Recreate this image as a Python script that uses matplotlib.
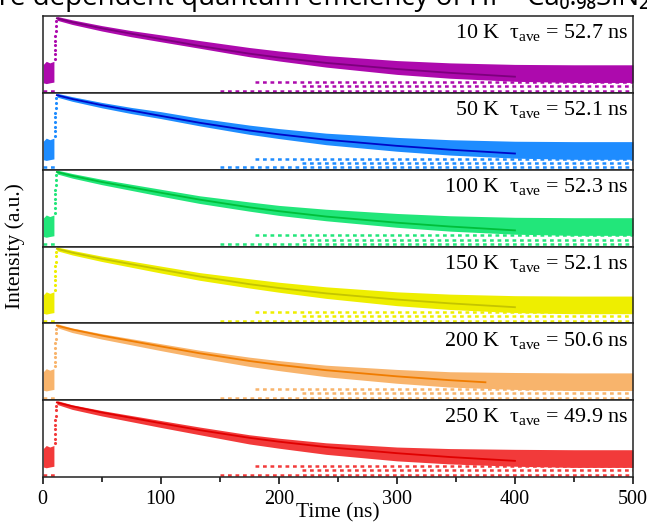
import matplotlib
matplotlib.use("Agg")
import matplotlib.pyplot as plt
import numpy as np

plt.rcParams['mathtext.fontset'] = 'custom'
plt.rcParams['mathtext.rm'] = 'Liberation Serif'
plt.rcParams['mathtext.it'] = 'Liberation Serif:italic'

# ---- data (normalised intensity = fraction of panel height) ----
temps = ["10 K", "50 K", "100 K", "150 K", "200 K", "250 K"]
tau_ave = ["52.7", "52.1", "52.3", "52.1", "50.6", "49.9"]
point_colors = ["#ad0aad", "#1e8cff", "#22e67a", "#eeee00", "#f8b46c", "#f23a3a"]
fit_colors = ["#7d007d", "#0008c8", "#00bf3a", "#c4c400", "#f07c00", "#e00000"]

# decay envelope (time in ns)
t_env = [12, 25, 50, 75, 100, 133, 175, 200, 240, 300, 345, 400, 450, 500]
center = {
    "10 K":  [0.97, 0.92, 0.84, 0.77, 0.71, 0.63, 0.53, 0.48, 0.41, 0.33, 0.29, 0.26, 0.25, 0.25],
    "50 K":  [0.97, 0.92, 0.84, 0.77, 0.71, 0.62, 0.52, 0.47, 0.40, 0.33, 0.29, 0.26, 0.25, 0.25],
    "100 K": [0.97, 0.92, 0.84, 0.77, 0.70, 0.61, 0.52, 0.47, 0.41, 0.34, 0.30, 0.27, 0.26, 0.26],
    "150 K": [0.97, 0.92, 0.84, 0.77, 0.70, 0.61, 0.52, 0.47, 0.40, 0.32, 0.28, 0.25, 0.24, 0.24],
    "200 K": [0.97, 0.91, 0.83, 0.76, 0.69, 0.60, 0.50, 0.45, 0.38, 0.31, 0.27, 0.25, 0.24, 0.24],
    "250 K": [0.97, 0.91, 0.83, 0.76, 0.69, 0.60, 0.49, 0.44, 0.37, 0.30, 0.27, 0.25, 0.24, 0.24],
}
half_width = [0.025, 0.03, 0.035, 0.04, 0.045, 0.05, 0.06, 0.065, 0.075, 0.09, 0.10, 0.11, 0.115, 0.115]

# fitted curve
t_fit = [12, 25, 50, 75, 100, 133, 175, 200, 240, 300, 345, 400]
fit_vals = [0.97, 0.92, 0.84, 0.77, 0.70, 0.61, 0.51, 0.46, 0.39, 0.31, 0.26, 0.21]
fit_end = {"10 K": 400, "50 K": 400, "100 K": 400, "150 K": 400, "200 K": 375, "250 K": 400}

# background before excitation
t_pre = [0.5, 3, 6, 9.5]
pre_lo = [0.13, 0.12, 0.13, 0.14]
pre_hi = [0.37, 0.41, 0.39, 0.41]

# rising edge points
t_rise = [10.5, 10.5, 10.5, 10.5, 10.5, 10.5, 11, 11, 11.5]
rise_vals = [0.44, 0.50, 0.56, 0.62, 0.68, 0.74, 0.80, 0.87, 0.93]

# quantised count levels in the tail
count_levels = [0.145, 0.09, 0.03]
count_start = [180, 220, 150]

xticks = [0, 100, 200, 300, 400, 500]

W, H = 647, 525
fig = plt.figure(figsize=(W / 100, H / 100), dpi=100)
fig.subplots_adjust(left=42.7 / W, right=633 / W, top=1 - 16 / H, bottom=1 - 477 / H, hspace=0)
axes = fig.subplots(len(temps), 1, sharex=True)

for ax, temp, tau, pc, fc in zip(axes, temps, tau_ave, point_colors, fit_colors):
    c = np.array(center[temp])
    hw = np.array(half_width)
    ax.fill_between(t_env, c - hw, c + hw, color=pc, lw=0, zorder=2)
    ax.fill_between(t_pre, pre_lo, pre_hi, color=pc, lw=0, zorder=2)
    ax.scatter(t_rise, rise_vals, s=5, color=pc, lw=0, zorder=2)
    for lvl, st in zip(count_levels, count_start):
        ax.hlines(lvl, st, 500, colors=pc, linestyles=(0, (1.5, 1.5)), lw=1.8, zorder=2)
    ax.hlines(0.03, 0, 10, colors=pc, linestyles=(0, (1.5, 1.5)), lw=1.8, zorder=2)
    tf = [t for t in t_fit if t <= fit_end[temp]]
    if fit_end[temp] not in tf:
        tf.append(fit_end[temp])
    fv = np.interp(tf, t_fit, fit_vals)
    ax.plot(tf, fv, color=fc, lw=1.3, zorder=3)
    ax.set_xlim(0, 500)
    ax.set_ylim(0, 1)
    ax.set_yticks([])
    for s in ax.spines.values():
        s.set_linewidth(1.1)
        s.set_color("#222222")
    ax.text(0.992, 0.71, temp + r"  $\mathrm{τ}_{\mathrm{ave}}$ = " + tau + " ns",
            transform=ax.transAxes, ha="right", va="baseline",
            fontsize=15.8, family="Liberation Serif", zorder=5)
    ax.tick_params(axis="x", which="both", direction="out", length=0)

ax = axes[-1]
ax.set_xticks(xticks)
ax.set_xticks([50, 150, 250, 350, 450], minor=True)
ax.tick_params(axis="x", which="major", length=5, width=1.1, labelsize=14.5, pad=4)
ax.tick_params(axis="x", which="minor", length=3.5, width=1.1)
for lab in ax.get_xticklabels():
    lab.set_family("Liberation Serif")
ax.set_xlabel("Time (ns)", family="Liberation Serif", fontsize=15.5, labelpad=-4)

fig.text(0.024, (1 - 16 / H + 1 - 477 / H) / 2, "Intensity (a.u.)", rotation=90,
         ha="center", va="center", family="Liberation Serif", fontsize=15.5)

fig.text(1.003, 1 - 5 / H, "Temperature dependent quantum efficiency of Hf⁴⁺-Ca₀.₉₈SiN₂",
         ha="right", va="baseline", fontsize=20.0, family=["Open Sans", "DejaVu Sans"])

fig.savefig("out.png", dpi=100)
